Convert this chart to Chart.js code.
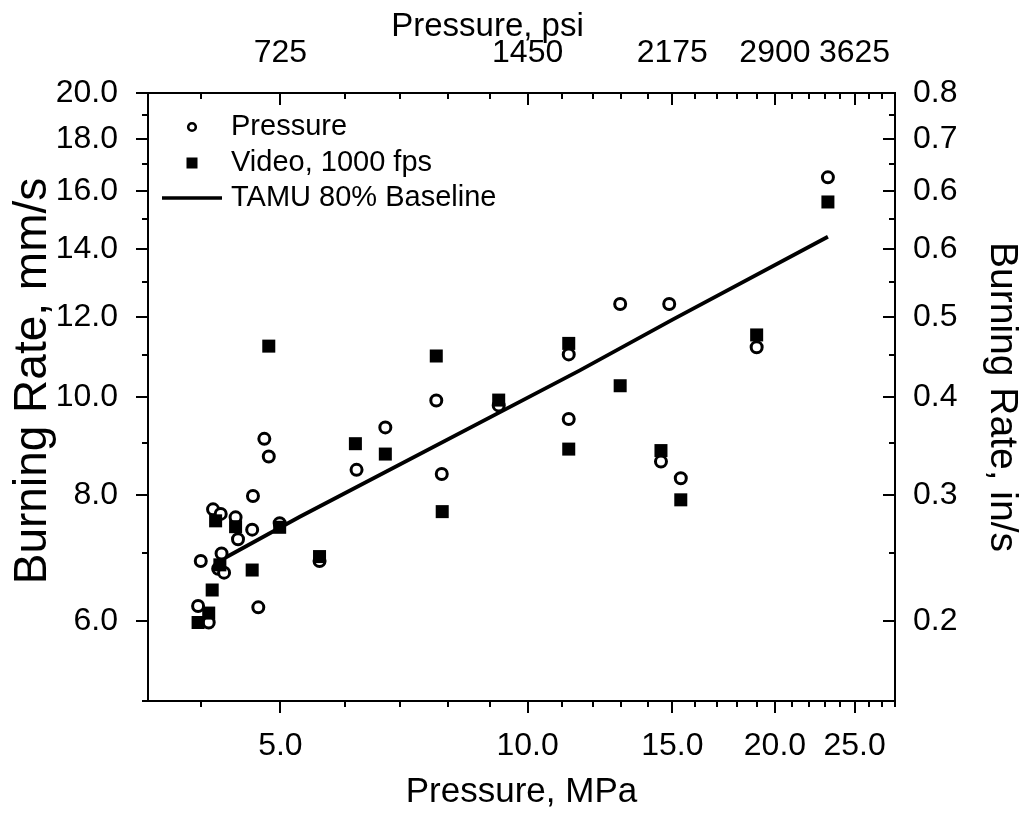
<!DOCTYPE html>
<html>
<head>
<meta charset="utf-8">
<script src="https://cdn.jsdelivr.net/npm/chart.js@4.4.1/dist/chart.umd.min.js"></script>
<style>
html,body{margin:0;padding:0;background:#ffffff;}
#wrap{width:1026px;height:813px;}
</style>
</head>
<body>
<div id="wrap"><canvas id="c" width="1026" height="813"></canvas></div>
<script>
// ---- data ----
const pressureP = [4.78, 4.84, 4.63, 4.14, 4.23, 4.41, 4.62, 4.44, 4.99, 4.24, 4.00, 4.20, 4.27, 5.58, 3.97, 4.70, 4.09, 6.19, 6.71, 7.86, 7.74, 9.22, 11.22, 11.22, 12.96, 14.87, 14.53, 15.36, 19.0, 23.2];
const pressureR = [9.09, 8.73, 7.98, 7.74, 7.66, 7.60, 7.39, 7.23, 7.50, 7.00, 6.88, 6.76, 6.70, 6.88, 6.21, 6.19, 5.98, 8.47, 9.33, 8.39, 9.92, 9.81, 11.02, 9.51, 12.36, 12.36, 8.63, 8.31, 11.20, 16.5];
const videoP = [3.97, 4.09, 4.13, 4.17, 4.22, 4.41, 4.62, 4.99, 4.84, 5.58, 6.17, 6.71, 7.87, 7.74, 9.22, 11.22, 11.22, 12.96, 14.53, 15.36, 19.0, 23.2];
const videoR = [5.98, 6.11, 6.44, 7.54, 6.82, 7.44, 6.74, 7.43, 11.23, 6.95, 8.99, 8.78, 7.70, 10.98, 9.93, 11.30, 8.88, 10.26, 8.85, 7.91, 11.52, 15.6];
const baselineP = [4.24, 5.28, 11.56, 15.01, 23.2];
const baselineR = [6.90, 7.61, 10.62, 11.93, 14.41];

const xTickValues = [4,5,6,7,8,9,10,11,12,13,14,15,16,17,18,19,20,21,22,23,24,25,26,27,28];
const xMajorTicks = [5,10,15,20,25];
const xLabels = ['5.0','10.0','15.0','20.0','25.0'];
const psiLabels = ['725','1450','2175','2900','3625'];
const yTickValues = [5,6,7,8,9,10,11,12,13,14,15,16,17,18,19,20];
const yMajorTicks = [6,8,10,12,14,16,18,20];
const yLabels = ['6.0','8.0','10.0','12.0','14.0','16.0','18.0','20.0'];
const inPerSecLabels = ['0.2','0.3','0.4','0.5','0.6','0.6','0.7','0.8'];
const legendLabels = ['Pressure','Video, 1000 fps','TAMU 80% Baseline'];

// ---- styling ----
const FONT = '"Liberation Sans", Arial, Helvetica, sans-serif';
const TICK_FONT = {family: FONT, size: 32};
const MAJOR_LEN = 12, MINOR_LEN = 6;

const toXY = (xs, ys) => xs.map((v, i) => ({x: v, y: ys[i]}));

const tickMarks = {
  id: 'tickMarks',
  afterDraw(chart) {
    const ctx = chart.ctx, a = chart.chartArea;
    const xs = chart.scales.x, ys = chart.scales.y;
    ctx.save();
    ctx.strokeStyle = '#000';
    ctx.lineWidth = 2;
    const seg = (x1, y1, x2, y2) => { ctx.beginPath(); ctx.moveTo(x1, y1); ctx.lineTo(x2, y2); ctx.stroke(); };
    xTickValues.forEach(v => {
      const len = xMajorTicks.includes(v) ? MAJOR_LEN : MINOR_LEN;
      const px = Math.round(xs.getPixelForValue(v));
      seg(px, a.bottom, px, a.bottom + len);
      seg(px, a.top, px, a.top + len);
    });
    yTickValues.forEach(v => {
      const len = yMajorTicks.includes(v) ? MAJOR_LEN : MINOR_LEN;
      const py = Math.round(ys.getPixelForValue(v));
      seg(a.left, py, a.left - len, py);
      seg(a.right, py, a.right - len, py);
    });
    ctx.fillStyle = '#000';
    ctx.textAlign = 'center';
    ctx.textBaseline = 'middle';
    // top axis title
    const x2 = chart.scales.x2;
    ctx.font = '33px ' + FONT;
    ctx.fillText('Pressure, psi', x2.left + (x2.right - x2.left) * 0.4545, 27);
    // left axis title
    ctx.save();
    ctx.translate(33, (a.top + a.bottom) / 2 - 16);
    ctx.rotate(-Math.PI / 2);
    ctx.font = '46px ' + FONT;
    ctx.fillText('Burning Rate, mm/s', 0, 0);
    ctx.restore();
    ctx.restore();
  }
};

const insideLegend = {
  id: 'insideLegend',
  afterDraw(chart) {
    const ctx = chart.ctx, a = chart.chartArea;
    const symX = a.left + 44, textX = a.left + 83;
    const rows = [a.top + 34, a.top + 70, a.top + 105];
    ctx.save();
    ctx.strokeStyle = '#000';
    ctx.lineWidth = 2.6;
    ctx.beginPath(); ctx.arc(symX, rows[0], 3.8, 0, Math.PI * 2);
    ctx.fillStyle = '#fff'; ctx.fill(); ctx.stroke();
    ctx.fillStyle = '#000';
    ctx.fillRect(symX - 5.5, rows[1] - 5.5, 11, 11);
    ctx.lineWidth = 3.5;
    ctx.beginPath(); ctx.moveTo(a.left + 14, rows[2]); ctx.lineTo(a.left + 74, rows[2]); ctx.stroke();
    ctx.font = '29px ' + FONT;
    ctx.textAlign = 'left';
    ctx.textBaseline = 'middle';
    legendLabels.forEach((t, i) => ctx.fillText(t, textX, rows[i]));
    ctx.restore();
  }
};

function fixSize(prop, val) { return s => { s[prop] = val; }; }

new Chart(document.getElementById('c'), {
  type: 'scatter',
  data: {
    datasets: [
      {
        label: legendLabels[0],
        data: toXY(pressureP, pressureR),
        pointStyle: 'circle', pointRadius: 5.5, pointBorderWidth: 3,
        pointBackgroundColor: '#fff', pointBorderColor: '#000',
        showLine: false, order: 1, xAxisID: 'x', yAxisID: 'y'
      },
      {
        label: legendLabels[1],
        data: toXY(videoP, videoR),
        pointStyle: 'rect', pointRadius: 9.2, pointBorderWidth: 0,
        pointBackgroundColor: '#000', pointBorderColor: '#000',
        showLine: false, order: 0, xAxisID: 'x', yAxisID: 'y'
      },
      {
        label: legendLabels[2],
        data: toXY(baselineP, baselineR),
        showLine: true, pointRadius: 0, borderColor: '#000', borderWidth: 3.8,
        fill: false, tension: 0, order: 2, xAxisID: 'x', yAxisID: 'y'
      }
    ]
  },
  options: {
    responsive: false,
    devicePixelRatio: 1,
    animation: false,
    events: [],
    layout: {padding: 0},
    plugins: {legend: {display: false}, tooltip: {enabled: false}, title: {display: false}},
    scales: {
      x: {
        type: 'logarithmic', position: 'bottom', min: 3.45, max: 28,
        afterFit: fixSize('height', 112),
        afterBuildTicks: s => { s.ticks = xTickValues.map(v => ({value: v})); },
        grid: {display: false},
        border: {display: true, color: '#000', width: 2},
        ticks: {
          autoSkip: false, maxRotation: 0, minRotation: 0, padding: 18, color: '#000', font: TICK_FONT,
          callback: v => { const i = xMajorTicks.indexOf(v); return i >= 0 ? xLabels[i] : ''; }
        },
        title: {display: true, text: 'Pressure, MPa', color: '#000', font: {family: FONT, size: 35}, padding: {top: 0, bottom: 0}}
      },
      x2: {
        type: 'logarithmic', position: 'top', min: 3.45, max: 28,
        afterFit: fixSize('height', 93),
        afterBuildTicks: s => { s.ticks = xTickValues.map(v => ({value: v})); },
        grid: {display: false},
        border: {display: true, color: '#000', width: 2},
        ticks: {
          autoSkip: false, maxRotation: 0, minRotation: 0, padding: 13, color: '#000', font: TICK_FONT,
          callback: v => { const i = xMajorTicks.indexOf(v); return i >= 0 ? psiLabels[i] : ''; }
        }
      },
      y: {
        type: 'logarithmic', position: 'left', min: 5, max: 20,
        afterFit: fixSize('width', 148),
        afterBuildTicks: s => { s.ticks = yTickValues.map(v => ({value: v})); },
        grid: {display: false},
        border: {display: true, color: '#000', width: 2},
        ticks: {
          autoSkip: false, padding: 22, color: '#000', font: TICK_FONT,
          callback: v => { const i = yMajorTicks.indexOf(v); return i >= 0 ? yLabels[i] : ''; }
        }
      },
      y2: {
        type: 'logarithmic', position: 'right', min: 5, max: 20,
        afterFit: fixSize('width', 131),
        afterBuildTicks: s => { s.ticks = yTickValues.map(v => ({value: v})); },
        grid: {display: false},
        border: {display: true, color: '#000', width: 2},
        ticks: {
          autoSkip: false, padding: 10, color: '#000', font: TICK_FONT,
          callback: v => { const i = yMajorTicks.indexOf(v); return i >= 0 ? inPerSecLabels[i] : ''; }
        },
        title: {display: true, text: 'Burning Rate, in/s', color: '#000', font: {family: FONT, size: 39}, padding: {top: 1, bottom: 0}}
      }
    }
  },
  plugins: [tickMarks, insideLegend]
});
</script>
</body>
</html>
